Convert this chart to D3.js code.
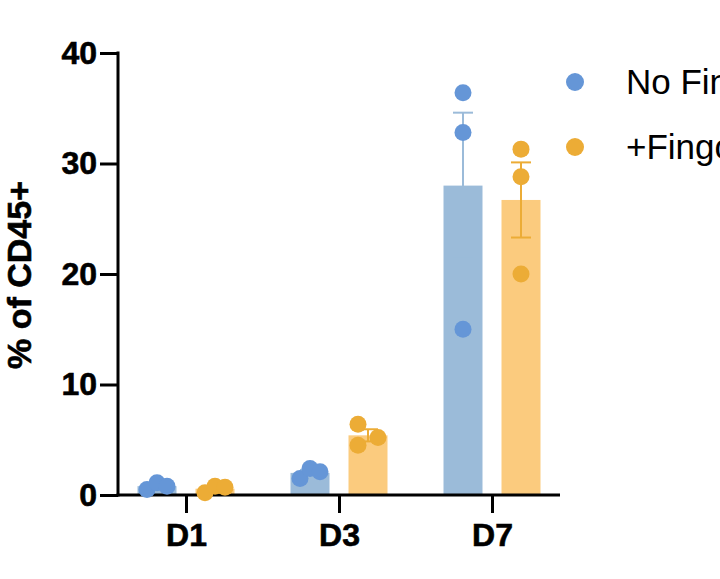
<!DOCTYPE html>
<html>
<head>
<meta charset="utf-8">
<script src="https://cdn.jsdelivr.net/npm/d3@7"></script>
<style>
  html, body { margin: 0; padding: 0; background: #fff; overflow: hidden; }
  svg { display: block; font-family: "Liberation Sans", Arial, sans-serif; }
</style>
</head>
<body>
<div id="chart"></div>
<script>
// categories and series
const days = ["D1", "D3", "D7"];
const seriesNames = ["No Fingolimod", "+Fingolimod"];

// bar heights (mean) and error (SEM), % of CD45+
const meanNoFingo = [0.8, 2.0, 28.0];
const meanFingo = [0.57, 5.4, 26.7];
const semNoFingo = [0.17, 0.27, 6.6];
const semFingo = [0.18, 0.55, 3.4];

// individual replicates per day
const dotsNoFingo = [[0.5, 1.1, 0.8], [1.5, 2.4, 2.1], [36.4, 32.8, 15.0]];
const dotsFingo = [[0.2, 0.8, 0.7], [6.4, 4.5, 5.2], [31.3, 28.8, 20.0]];

const yTicks = [0, 10, 20, 30, 40];

// layout only: horizontal spread slot of each dot (so overlapping dots sit side by side)
const dotSlotsNoFingo = [[-1, 0, 1], [-1, 0, 1], [0, 0, 0]];
const dotSlotsFingo = [[-1, 0, 1], [-1, -1, 1], [0, 0, 0]];

function drawChart() {
    const width = 720, height = 579;
    const svg = d3.select("#chart").append("svg")
        .attr("width", width)
        .attr("height", height);

    const axisX = 118;
    const axisEnd = 560;

    const x = d3.scalePoint()
        .domain(days)
        .range([186, 492]);

    const y = d3.scaleLinear()
        .domain([0, 40])
        .range([495, 53]);

    const barW = 39;
    const dodge = 29;
    const slotW = 10;

    const series = [
        { name: seriesNames[0], mean: meanNoFingo, sem: semNoFingo, dots: dotsNoFingo, slots: dotSlotsNoFingo,
          off: -dodge, bar: "#9bbbd9", err: "#9bbbd9", dot: "#6596d7" },
        { name: seriesNames[1], mean: meanFingo, sem: semFingo, dots: dotsFingo, slots: dotSlotsFingo,
          off: dodge, bar: "#fbcb7e", err: "#ecac36", dot: "#ecac36" }
    ];

    // bars
    series.forEach(s => {
        svg.append("g").selectAll("rect")
            .data(days)
            .enter()
            .append("rect")
            .attr("x", (d, i) => x(d) + s.off - barW / 2)
            .attr("y", (d, i) => y(s.mean[i]))
            .attr("width", barW)
            .attr("height", (d, i) => y(0) - y(s.mean[i]))
            .attr("fill", s.bar);
    });

    // y axis
    const yAxis = d3.axisLeft(y)
        .tickValues(yTicks)
        .tickSize(18)
        .tickPadding(3);

    const gy = svg.append("g")
        .attr("transform", `translate(${axisX},0)`)
        .call(yAxis);
    gy.select(".domain").remove();
    gy.selectAll(".tick line").attr("stroke", "#000").attr("stroke-width", 3);
    gy.selectAll(".tick text")
        .attr("fill", "#000")
        .attr("stroke", "#000")
        .attr("stroke-width", 0.6)
        .style("font-size", "32px")
        .style("font-weight", "bold");
    gy.append("line")
        .attr("x1", 0).attr("x2", 0)
        .attr("y1", y(40) - 1.5).attr("y2", y(0) + 1.5)
        .attr("stroke", "#000")
        .attr("stroke-width", 3);

    // x axis
    const xAxis = d3.axisBottom(x)
        .tickSize(18)
        .tickPadding(10);
    const gx = svg.append("g")
        .attr("transform", `translate(0,${y(0)})`)
        .call(xAxis);
    gx.select(".domain").remove();
    gx.selectAll(".tick line").attr("stroke", "#000").attr("stroke-width", 3);
    gx.selectAll(".tick text")
        .attr("fill", "#000")
        .attr("stroke", "#000")
        .attr("stroke-width", 0.6)
        .style("font-size", "32px")
        .style("font-weight", "bold");
    gx.append("line")
        .attr("x1", axisX - 1.5).attr("x2", axisEnd)
        .attr("y1", 0).attr("y2", 0)
        .attr("stroke", "#000")
        .attr("stroke-width", 3);

    // error bars
    series.forEach(s => {
        const g = svg.append("g");
        days.forEach((d, i) => {
            const cx = x(d) + s.off;
            const top = y(s.mean[i] + s.sem[i]);
            const bot = y(s.mean[i] - s.sem[i]);
            g.append("line")
                .attr("x1", cx).attr("x2", cx)
                .attr("y1", top).attr("y2", bot)
                .attr("stroke", s.err).attr("stroke-width", 2);
            [top, bot].forEach(yy => {
                g.append("line")
                    .attr("x1", cx - 10).attr("x2", cx + 10)
                    .attr("y1", yy).attr("y2", yy)
                    .attr("stroke", s.err).attr("stroke-width", 2);
            });
        });
    });

    // dots
    series.forEach(s => {
        const pts = [];
        days.forEach((d, i) => {
            s.dots[i].forEach((v, j) => pts.push({ day: d, v: v, slot: s.slots[i][j] }));
        });
        svg.append("g").selectAll("circle")
            .data(pts)
            .enter()
            .append("circle")
            .attr("cx", p => x(p.day) + s.off + p.slot * slotW)
            .attr("cy", p => y(p.v))
            .attr("r", 8.5)
            .attr("fill", s.dot);
    });

    // y axis title
    svg.append("text")
        .attr("transform", `translate(31, ${(y(0) + y(40)) / 2 + 1}) rotate(-90)`)
        .style("text-anchor", "middle")
        .attr("stroke", "#000")
        .attr("stroke-width", 0.6)
        .style("font-size", "34px")
        .style("font-weight", "bold")
        .text("% of CD45+");

    // legend
    const legend = svg.append("g")
        .attr("transform", "translate(575, 82)");
    const items = legend.selectAll("g")
        .data(series)
        .enter()
        .append("g")
        .attr("transform", (d, i) => `translate(0, ${i * 65})`);
    items.append("circle")
        .attr("r", 9)
        .attr("fill", d => d.dot);
    items.append("text")
        .attr("x", 51)
        .attr("y", 12)
        .style("font-size", "35px")
        .text(d => d.name);
}

drawChart();
</script>
</body>
</html>
